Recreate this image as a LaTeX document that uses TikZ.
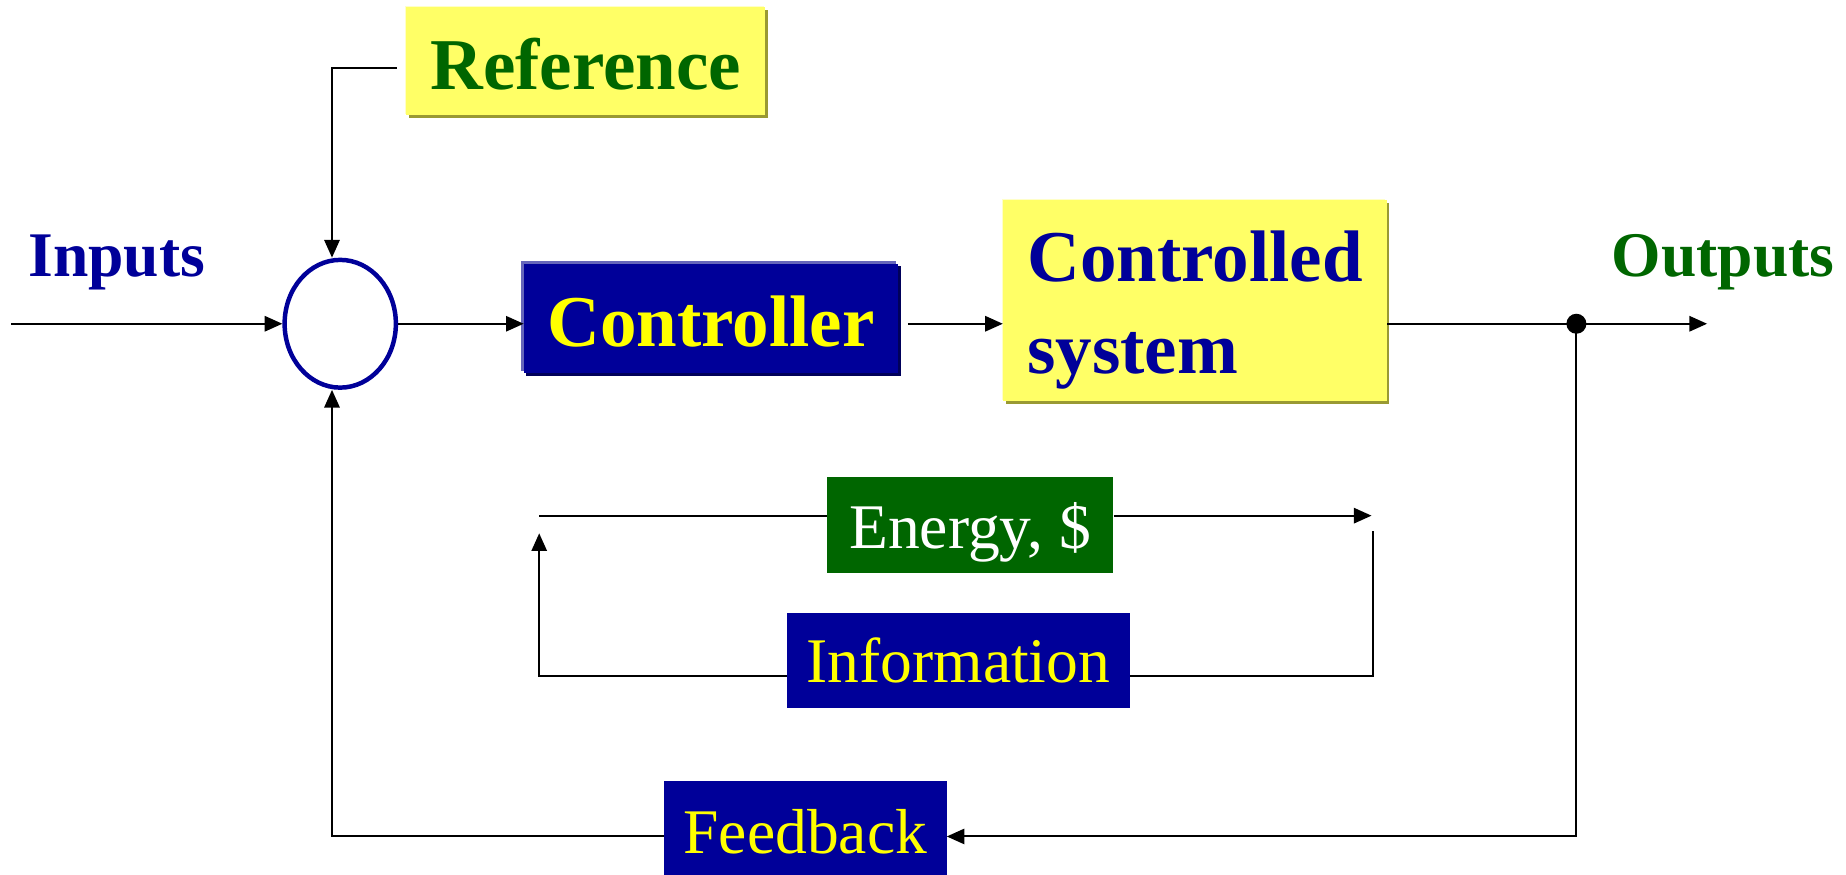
\documentclass[tikz,border=0pt]{standalone}
\usepackage{fontspec}
\setmainfont{Liberation Serif}
\usetikzlibrary{arrows.meta,shadows,shapes.geometric}
\definecolor{dblue}{RGB}{0,0,153}
\definecolor{dgreen}{RGB}{0,102,0}
\definecolor{lyellow}{RGB}{255,255,102}
\definecolor{tyellow}{RGB}{255,255,0}
\definecolor{olivesh}{RGB}{153,153,51}
\definecolor{hiyellow}{RGB}{255,255,200}
\definecolor{lblue}{RGB}{102,102,187}
\definecolor{navysh}{RGB}{0,0,90}
\begin{document}
\begin{tikzpicture}[x=1pt,y=-1pt,
  box/.style={rectangle, inner sep=0pt, anchor=center},
  ybox/.style={box, fill=lyellow,
    general shadow={shadow xshift=-1.2pt, shadow yshift=1.2pt, fill=hiyellow},
    general shadow={shadow xshift=2.2pt, shadow yshift=-2.2pt, fill=olivesh}},
  bbox/.style={box, fill=dblue,
    general shadow={shadow xshift=-2.2pt, shadow yshift=2.2pt, fill=lblue},
    general shadow={shadow xshift=2.2pt, shadow yshift=-2.2pt, fill=navysh}},
  flatbox/.style={box},
  bigbold/.style={font=\fontsize{62}{77.5}\selectfont\bfseries},
  midbold/.style={font=\fontsize{54}{66}\selectfont\bfseries},
  plain/.style={font=\fontsize{54}{66}\selectfont},
  conn/.style={draw=black, line width=1.7pt},
  arr/.style={conn, -{Triangle[length=15pt,width=13pt]}},
]
\useasboundingbox (0,0) rectangle (1568,743);

% boxes
\node[ybox, bigbold, text=dgreen, minimum width=305pt, minimum height=92pt,
      text height=48pt, text depth=0pt] (ref) at (497.5,52) {Reference};
\node[draw=dblue, line width=3.8pt, ellipse, minimum width=94.5pt,
      minimum height=108.5pt, inner sep=0pt] (sum) at (289,275) {};
\node[bbox, bigbold, text=tyellow, minimum width=318pt, minimum height=93pt,
      text height=48pt, text depth=0pt] (ctrl) at (604,270.5) {Controller};
\node[ybox, bigbold, text=dblue, minimum width=326pt, minimum height=171pt,
      text height=45pt, text depth=77pt] (cs) at (1015,255.5)
      {\begin{tabular}[t]{@{}l@{}}Controlled\\system\end{tabular}};
\node[flatbox, fill=dgreen, plain, text=white, minimum width=243.5pt,
      minimum height=82pt, text height=40pt, text depth=0pt] (en) at (824,446) {Energy, \$};
\node[flatbox, fill=dblue, plain, text=tyellow, minimum width=291.5pt,
      minimum height=80.5pt, text height=38pt, text depth=0pt] (info) at (814,561) {Information};
\node[flatbox, fill=dblue, plain, text=tyellow, minimum width=240pt,
      minimum height=81pt, text height=42.5pt, text depth=0pt] (fb) at (684,703.5) {Feedback};

% free labels
\node[anchor=base west, inner sep=0pt, midbold, text=dblue] (inp) at (24,235) {Inputs};
\node[anchor=base west, inner sep=0pt, midbold, text=dgreen] (outp) at (1369,235) {Outputs};

% coordinates
\coordinate (instart) at (9.5,275);
\coordinate (refout) at (337,57.5);
\coordinate (outend) at (1450,275);
\node[circle, fill=black, inner sep=0pt, minimum size=17pt] (dot) at (1339,275) {};
\coordinate (eL) at (458,438);
\coordinate (eR) at (1165,438);
\coordinate (iR) at (1166,451);
\coordinate (iL) at (458,453);
\coordinate (iy) at (0,574);

% connectors
\draw[arr] (instart) -- (sum.west);
\draw[arr] (refout) -| ([xshift=-7pt]sum.north);
\draw[arr] (sum.east) -- (ctrl.west |- sum.east);
\draw[arr] ([xshift=8pt]ctrl.east |- sum.east) -- (cs.west |- sum.east);
\draw[conn] (cs.east |- sum.east) -- (dot.center);
\draw[arr] (dot.center) -- (outend);
\draw[arr] (dot.center) |- ([yshift=-7pt]fb.east);
\draw[arr] ([yshift=-7pt]fb.west) -| ([xshift=-7pt]sum.south);
\draw[conn] (eL) -- (en.west |- eL);
\draw[arr] (en.east |- eL) -- (eR);
\draw[conn] (info.east |- iy) -| (iR);
\draw[arr] (info.west |- iy) -| (iL);
\end{tikzpicture}
\end{document}
